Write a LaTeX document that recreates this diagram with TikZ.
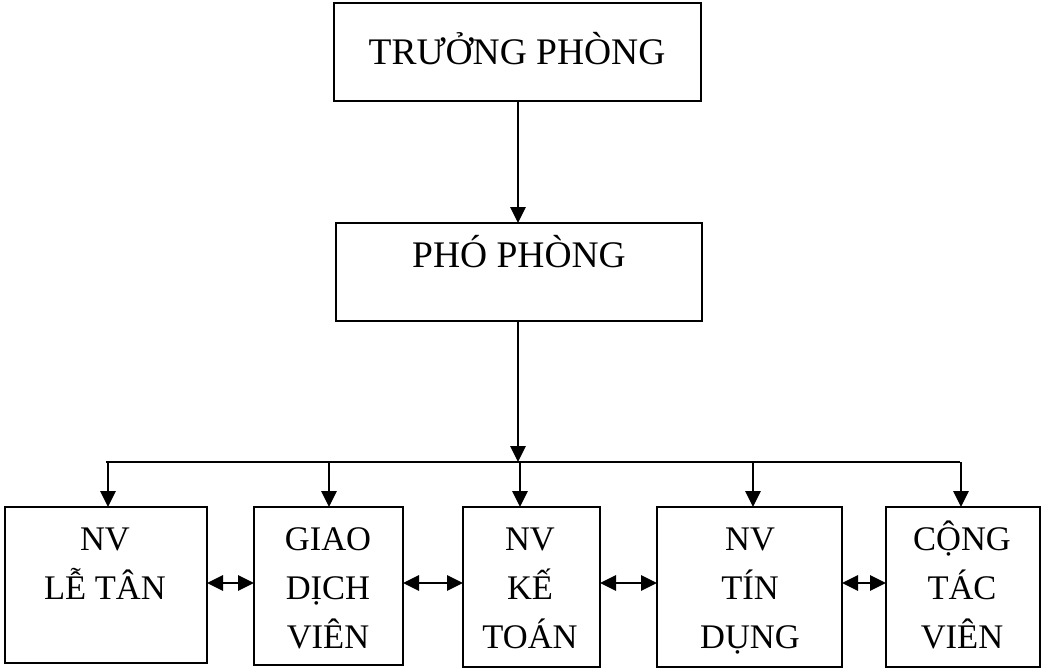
\documentclass[tikz,border=0pt]{standalone}
\usepackage{fontspec}
\setmainfont{Liberation Serif}
\usetikzlibrary{arrows.meta}
\begin{document}
\begin{tikzpicture}[x=1pt,y=-1pt,
  box/.style={draw,line width=2.8pt,inner sep=0pt,outer sep=0pt},
  conn/.style={line width=2.8pt},
  arr/.style={conn,-{Triangle[length=16pt,width=15pt]}},
  darr/.style={conn,{Triangle[length=16pt,width=15pt]}-{Triangle[length=16pt,width=15pt]}},
  big/.style={font=\fontsize{37.5}{48}\selectfont,inner sep=0pt,anchor=base},
  small/.style={font=\fontsize{34.5}{49}\selectfont,inner sep=0pt,anchor=north,align=center}
]
\useasboundingbox (0,0) rectangle (1053,669);
% boxes
\node[box,minimum width=367pt,minimum height=98pt] (top) at (517.5,52) {};
\node[box,minimum width=366pt,minimum height=98pt] (pho) at (519,272) {};
\node[box,minimum width=202pt,minimum height=156pt] (b1) at (106,585) {};
\node[box,minimum width=149pt,minimum height=158pt] (b2) at (328.5,586) {};
\node[box,minimum width=137pt,minimum height=160pt] (b3) at (531.5,587) {};
\node[box,minimum width=185pt,minimum height=160pt] (b4) at (749.5,587) {};
\node[box,minimum width=154pt,minimum height=160pt] (b5) at (963,587) {};
% texts
\node[big] (ttop) at (517,65) {TRƯỞNG PHÒNG};
\node[big] (tpho) at (519,267) {PHÓ PHÒNG};
\node[small] (t1) at (105,517) {\rule{0pt}{33pt}NV\\LỄ TÂN};
\node[small] (t2) at (328,517) {\rule{0pt}{33pt}GIAO\\DỊCH\\VIÊN};
\node[small] (t3) at (530,517) {\rule{0pt}{33pt}NV\\KẾ\\TOÁN};
\node[small] (t4) at (750,517) {\rule{0pt}{33pt}NV\\TÍN\\DỤNG};
\node[small] (t5) at (962,517) {\rule{0pt}{33pt}CỘNG\\TÁC\\VIÊN};
% connectors
\coordinate (bus) at (518,462);
\coordinate (busL) at (106,462);
\coordinate (busR) at (960,462);
\draw[arr] (top.south -| bus) -- (pho.north -| bus);
\draw[arr] (pho.south -| bus) -- (bus);
\draw[conn] (busL) -- (busR);
\draw[arr] (108,462) -- (b1.north -| 108,0);
\draw[arr] (329,462) -- (b2.north -| 329,0);
\draw[arr] (520,462) -- (b3.north -| 520,0);
\draw[arr] (753,462) -- (b4.north -| 753,0);
\draw[arr] (961,462) -- (b5.north -| 961,0);
\draw[darr] (b1.east |- 0,583) -- (b2.west |- 0,583);
\draw[darr] (b2.east |- 0,583) -- (b3.west |- 0,583);
\draw[darr] (b3.east |- 0,583) -- (b4.west |- 0,583);
\draw[darr] (b4.east |- 0,583) -- (b5.west |- 0,583);
\end{tikzpicture}
\end{document}
